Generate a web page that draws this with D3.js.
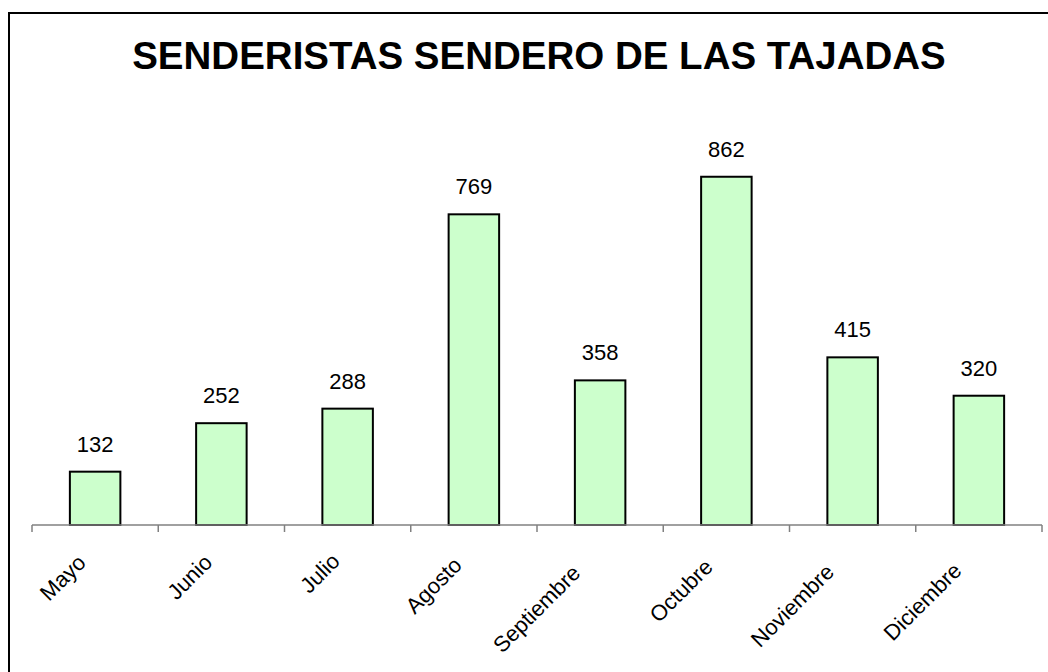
<!DOCTYPE html>
<html>
<head>
<meta charset="utf-8">
<script src="https://cdn.jsdelivr.net/npm/d3@7"></script>
<style>
  body { margin: 0; background: #fff; }
  svg { display: block; font-family: Arial, "Liberation Sans", sans-serif; }
</style>
</head>
<body>
<svg id="chart" width="1048" height="672"></svg>
<script>
const months = ["Mayo", "Junio", "Julio", "Agosto", "Septiembre", "Octubre", "Noviembre", "Diciembre"];
const hikers = [132, 252, 288, 769, 358, 862, 415, 320];
const title = "SENDERISTAS SENDERO DE LAS TAJADAS";

const data = months.map((m, i) => ({month: m, value: hikers[i]}));

const svg = d3.select("#chart");

// chart frame (runs off the right/bottom edge like the original)
svg.append("rect")
    .attr("x", 9).attr("y", 13)
    .attr("width", 1100).attr("height", 700)
    .attr("fill", "#fff")
    .attr("stroke", "#000")
    .attr("stroke-width", 2);

svg.append("text")
    .attr("x", 539).attr("y", 69)
    .attr("text-anchor", "middle")
    .style("font-size", "38.5px")
    .style("font-weight", "bold")
    .text(title);

const x = d3.scaleBand()
    .domain(months)
    .range([32, 1042])
    .paddingInner(0.6)
    .paddingOuter(0.3);

const y = d3.scaleLinear()
    .domain([0, 1000])
    .range([525, 121]);

// bars
svg.append("g").selectAll("rect")
    .data(data)
  .join("rect")
    .attr("x", d => x(d.month))
    .attr("y", d => y(d.value))
    .attr("width", x.bandwidth())
    .attr("height", d => y(0) - y(d.value))
    .attr("fill", "#ccffcc")
    .attr("stroke", "#000")
    .attr("stroke-width", 2);

// value labels
svg.append("g").selectAll("text")
    .data(data)
  .join("text")
    .attr("x", d => x(d.month) + x.bandwidth() / 2)
    .attr("y", d => y(d.value) - 20)
    .attr("text-anchor", "middle")
    .style("font-size", "22px")
    .text(d => d.value);

// x axis: line + ticks between categories
const step = x.step();
const axisG = svg.append("g").attr("stroke", "#808080").attr("stroke-width", 1.5);
axisG.append("line")
    .attr("x1", 32).attr("x2", 1042)
    .attr("y1", y(0)).attr("y2", y(0));
axisG.selectAll(".tick")
    .data(d3.range(months.length + 1))
  .join("line")
    .attr("class", "tick")
    .attr("x1", i => 32 + i * step).attr("x2", i => 32 + i * step)
    .attr("y1", y(0)).attr("y2", y(0) + 7);

// rotated category labels (longer labels slide down-left a bit, like excel)
svg.append("g").selectAll("text")
    .data(months)
  .join("text")
    .attr("transform", d => `translate(${x(d) + x.bandwidth() / 2 + 1.5},${y(0) + 29.5}) rotate(-45)`)
    .attr("text-anchor", "end")
    .style("font-size", "22px")
    .text(d => d)
    .attr("dx", function() { return -0.25 * this.getComputedTextLength(); });
</script>
</body>
</html>
